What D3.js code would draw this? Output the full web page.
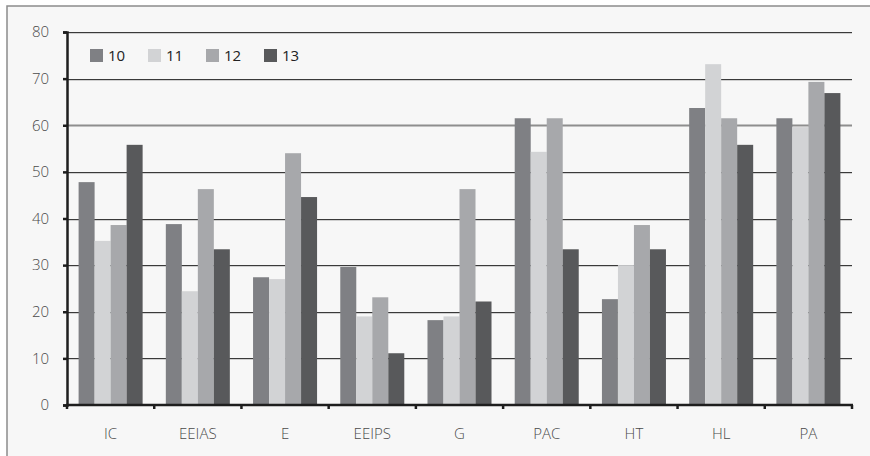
<!DOCTYPE html>
<html>
<head>
<meta charset="utf-8">
<script src="https://cdn.jsdelivr.net/npm/d3@7"></script>
<style>
  html, body { margin: 0; padding: 0; background: #ffffff; }
  svg { display: block; }
  text { font-family: "Open Sans", "Noto Sans", sans-serif; }
</style>
</head>
<body>
<svg id="chart" width="870" height="456"></svg>
<script>
// Categories along the x axis
const categories = ["IC", "EEIAS", "E", "EEIPS", "G", "PAC", "HT", "HL", "PA"];
// Series keys (legend labels)
const seriesKeys = ["10", "11", "12", "13"];
// Values per series, in category order
const values10 = [47.8, 38.8, 27.4, 29.6, 18.2, 61.5, 22.7, 63.7, 61.5];
const values11 = [35.2, 24.4, 27.0, 19.0, 19.0, 54.3, 30.0, 73.1, 59.6];
const values12 = [38.6, 46.3, 54.0, 23.1, 46.3, 61.5, 38.6, 61.5, 69.3];
const values13 = [55.8, 33.4, 44.6, 11.1, 22.2, 33.4, 33.4, 55.8, 66.9];
const yTicks = [0, 10, 20, 30, 40, 50, 60, 70, 80];

const seriesValues = [values10, values11, values12, values13];
const colors = ["#7f8084", "#d2d3d5", "#a7a8ab", "#58595b"];

const svg = d3.select("#chart");

// Panel background and frame
svg.append("rect")
  .attr("x", 7).attr("y", 6)
  .attr("width", 900).attr("height", 500)
  .attr("fill", "#f7f7f7")
  .attr("stroke", "#8c8c8c")
  .attr("stroke-width", 1.5);

const plotLeft = 67, plotRight = 852, plotTop = 32, plotBottom = 405;

const x = d3.scaleBand().domain(categories).range([plotLeft, plotRight]).paddingInner(0).paddingOuter(0);
const xInner = d3.scaleBand().domain(seriesKeys)
  .range([0, x.bandwidth()]).paddingInner(0).paddingOuter(0.725);
const y = d3.scaleLinear().domain([0, 80]).range([plotBottom, plotTop]);

// Horizontal gridlines
const grid = svg.append("g");
yTicks.filter(t => t > 0).forEach(t => {
  const yy = Math.round(y(t));
  if (t === 60) {
    grid.append("line")
      .attr("x1", plotLeft).attr("x2", plotRight)
      .attr("y1", yy + 0.5).attr("y2", yy + 0.5)
      .attr("stroke", "#8e8e8e").attr("stroke-width", 2);
  } else {
    grid.append("line")
      .attr("x1", plotLeft).attr("x2", plotRight)
      .attr("y1", yy + 1.5).attr("y2", yy + 1.5)
      .attr("stroke", "#cfcfcf").attr("stroke-width", 1);
    grid.append("line")
      .attr("x1", plotLeft).attr("x2", plotRight)
      .attr("y1", yy + 0.5).attr("y2", yy + 0.5)
      .attr("stroke", "#3a3a3a").attr("stroke-width", 1);
  }
});

// Bars
const groups = svg.append("g").selectAll("g")
  .data(categories)
  .join("g")
  .attr("transform", d => `translate(${x(d)},0)`);

groups.selectAll("rect")
  .data((c, ci) => seriesKeys.map((k, si) => ({ key: k, value: seriesValues[si][ci], color: colors[si] })))
  .join("rect")
  .attr("x", d => xInner(d.key))
  .attr("width", xInner.bandwidth())
  .attr("y", d => y(d.value))
  .attr("height", d => y(0) - y(d.value))
  .attr("fill", d => d.color);

// Y axis
const yAxis = d3.axisLeft(y).tickValues(yTicks).tickSize(4).tickPadding(14);
const gy = svg.append("g").attr("transform", `translate(${plotLeft},0)`).call(yAxis);
gy.select(".domain").attr("stroke", "#1e1e1e").attr("stroke-width", 2.5);
gy.selectAll(".tick line").attr("stroke", "#1e1e1e").attr("stroke-width", 2.5);
gy.selectAll(".tick text").attr("font-size", 15).attr("font-weight", 300).attr("fill", "#4a4a4a");

// X axis with ticks at category boundaries
const gx = svg.append("g").attr("transform", `translate(0,${plotBottom})`);
const boundaries = categories.map(c => x(c)).concat([plotRight]);
gx.append("line").attr("x1", plotLeft - 1).attr("x2", plotRight + 1).attr("y1", 0).attr("y2", 0)
  .attr("stroke", "#1e1e1e").attr("stroke-width", 2.5);
gx.selectAll("line.tk").data(boundaries).join("line")
  .attr("class", "tk")
  .attr("x1", d => d).attr("x2", d => d)
  .attr("y1", 0).attr("y2", 4)
  .attr("stroke", "#1e1e1e").attr("stroke-width", 2.5);
gx.selectAll("text").data(categories).join("text")
  .attr("x", d => x(d) + x.bandwidth() / 2)
  .attr("y", 34)
  .attr("text-anchor", "middle")
  .attr("font-size", 15)
  .attr("font-weight", 300)
  .attr("fill", "#4a4a4a")
  .text(d => d);

// Legend
const legend = svg.append("g").attr("transform", "translate(90,49)");
const legendItems = legend.selectAll("g").data(seriesKeys).join("g")
  .attr("transform", (d, i) => `translate(${i * 58},0)`);
legendItems.append("rect")
  .attr("width", 13).attr("height", 13)
  .attr("fill", (d, i) => colors[i]);
legendItems.append("text")
  .attr("x", 18).attr("y", 12)
  .attr("font-size", 15)
  .attr("fill", "#222")
  .text(d => d);
</script>
</body>
</html>
